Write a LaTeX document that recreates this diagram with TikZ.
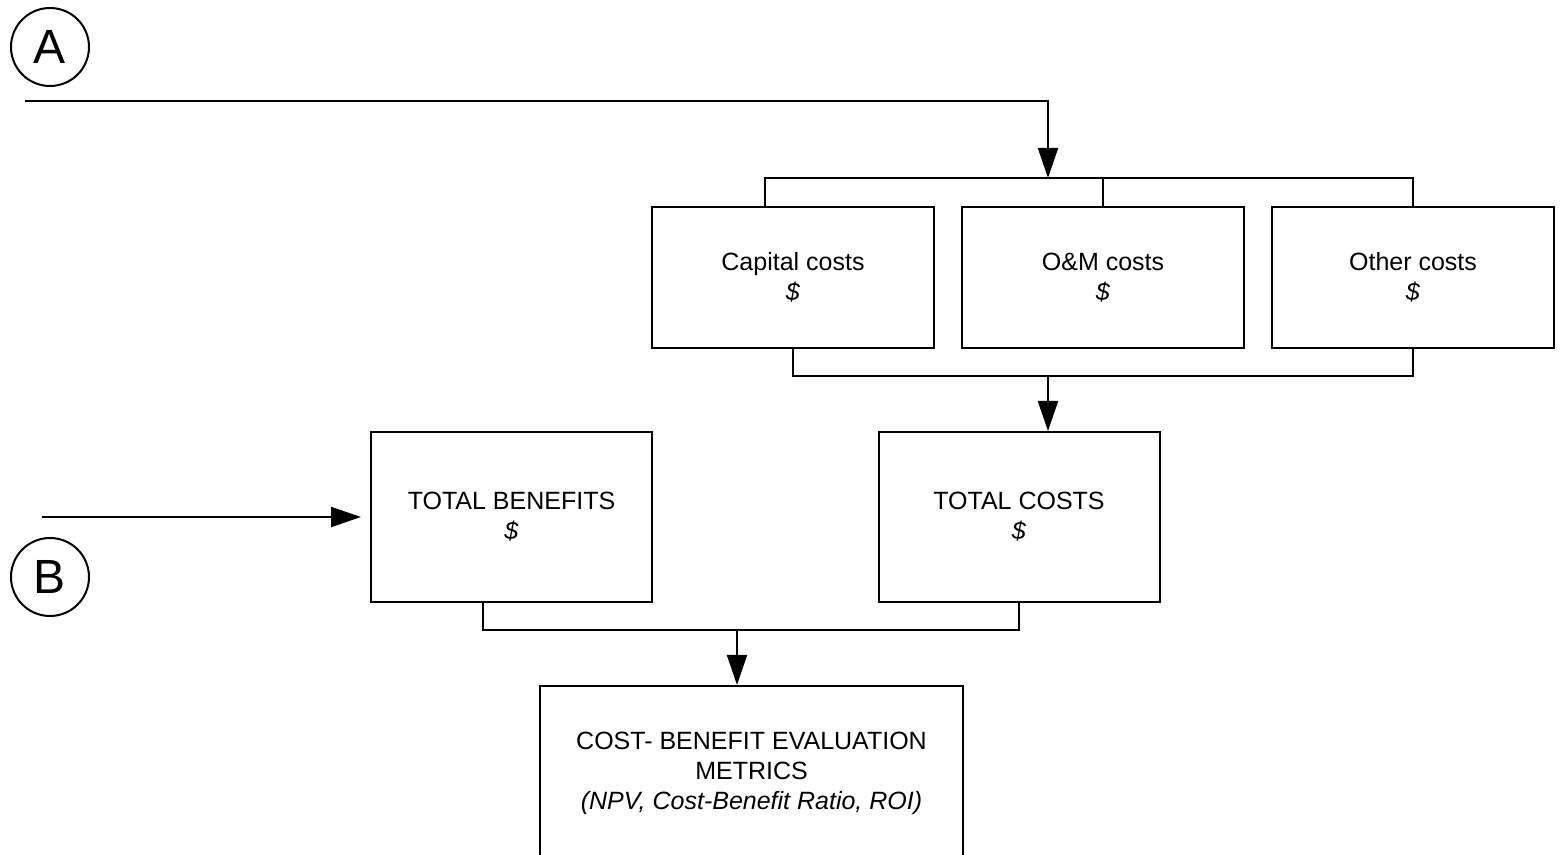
\documentclass[tikz,border=0pt]{standalone}
\usepackage{fontspec}
\setmainfont{Liberation Sans}
\usetikzlibrary{arrows.meta}

\begin{document}
\begin{tikzpicture}[x=0.5pt,y=-0.5pt,line width=1pt,
    box/.style={draw,align=center,inner sep=0pt,font=\fontsize{12.5}{15}\selectfont},
    costbox/.style={box,minimum width=141pt,minimum height=70.5pt},
    sumbox/.style={box,minimum width=140.5pt,minimum height=85pt},
    tag/.style={draw,circle,inner sep=0pt,minimum size=39pt,font=\fontsize{24}{24}\selectfont},
    arr/.style={-{Triangle[length=15pt,width=10pt]}}]
            \useasboundingbox (0,0) rectangle (1560,855);
            \node [tag] (tagA) at (50,47) {A};
            \node [tag] (tagB) at (50,577) {B};
            \node [costbox] (cap) at (793,277.5) {Capital costs\\\textit{\$}};
            \node [costbox] (om) at (1103,277.5) {O\&M costs\\\textit{\$}};
            \node [costbox] (oth) at (1413,277.5) {Other costs\\\textit{\$}};
            \node [sumbox] (tben) at (511.5,517) {TOTAL BENEFITS\\\textit{\$}};
            \node [sumbox] (tcost) at (1019,517) {TOTAL COSTS\\\textit{\$}};
            \node [box,minimum width=211.5pt,minimum height=87pt] (eval) at (751.5,773)
                {COST- BENEFIT EVALUATION\\METRICS\\\textit{(NPV, Cost-Benefit Ratio, ROI)}};
            \coordinate (aStart) at (25,101);
            \coordinate (bStart) at (42,517);
            \coordinate (capIn) at (765,207);
            \coordinate (benOut) at (483,602);
            \coordinate (topBus) at (1048,178);
            \coordinate (midBus) at (1048,376);
            \coordinate (lowBus) at (737,630);
            \draw [arr] (aStart) -| (topBus);
            \draw (capIn) |- (topBus) -| (oth.north);
            \draw (om.north) -- (om.north |- topBus);
            \draw (cap.south) |- (midBus) -| (oth.south);
            \draw [arr] (midBus) -- (tcost.north -| midBus);
            \draw [arr] (bStart) -- ([xshift=-4.5pt]tben.west);
            \draw (benOut) |- (lowBus) -| (tcost.south);
            \draw [arr] (lowBus) -- (eval.north -| lowBus);
\end{tikzpicture}
\end{document}
